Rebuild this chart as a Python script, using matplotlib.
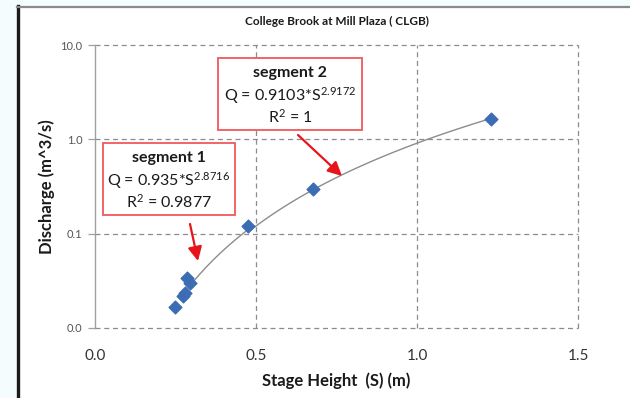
import numpy as np
import matplotlib
matplotlib.use("Agg")
import matplotlib.pyplot as plt
from matplotlib.patches import Rectangle, FancyArrowPatch
from matplotlib.lines import Line2D

plt.rcParams['font.family'] = ['Lato', 'DejaVu Sans']
plt.rcParams['mathtext.default'] = 'regular'

# Measured stage/discharge pairs
stage = [0.248, 0.274, 0.280, 0.285, 0.295, 0.475, 0.677, 1.23]
discharge = [0.0169, 0.0216, 0.0235, 0.0339, 0.0300, 0.122, 0.300, 1.66]

# Power-law fits for the two segments
seg1_coef, seg1_exp = 0.935, 2.8716
seg2_coef, seg2_exp = 0.9103, 2.9172
seg1_range = (0.29, 0.475)
seg2_range = (0.475, 1.23)

x_ticks = [0.0, 0.5, 1.0, 1.5]
x_labels = ["0.0", "0.5", "1.0", "1.5"]
y_ticks = [0.01, 0.1, 1.0, 10.0]
y_labels = ["0.0", "0.1", "1.0", "10.0"]

W, H = 630, 398
fig = plt.figure(figsize=(W / 100, H / 100), dpi=100, facecolor="#f4fcfd")

# White chart panel with its dark left edge and grey top rule
fig.patches.append(Rectangle((19 / W, 0), 1 - 19 / W, 1 - 7 / H,
                             transform=fig.transFigure, facecolor="white",
                             edgecolor="none", zorder=-5))
fig.lines.append(Line2D([18 / W, 18 / W], [0, 1 - 6 / H], transform=fig.transFigure,
                        color="#1a1a1a", lw=2.4, zorder=-4))
fig.lines.append(Line2D([17 / W, 1], [1 - 6.5 / H, 1 - 6.5 / H], transform=fig.transFigure,
                        color="#8a8a8a", lw=1.6, zorder=-4))

ax = fig.add_axes([95 / W, 1 - 328 / H, (578 - 95) / W, (328 - 45) / H])
ax.set_facecolor("none")
ax.set_yscale("log")
ax.set_xlim(0, 1.5)
ax.set_ylim(0.01, 10)

for s in ["top", "right", "bottom"]:
    ax.spines[s].set_visible(False)
ax.spines["left"].set_color("#a0a0a0")
ax.spines["left"].set_linewidth(1.0)

grid_kw = dict(color="#8c8c8c", lw=0.9, ls=(0, (4, 3)), zorder=1, clip_on=False)
for yv in y_ticks:
    ax.axhline(yv, **grid_kw)
for xv in x_ticks[1:]:
    ax.axvline(xv, **grid_kw)

ax.set_xticks(x_ticks)
ax.set_xticklabels(x_labels)
ax.set_yticks(y_ticks)
ax.set_yticklabels(y_labels)
ax.yaxis.set_minor_locator(matplotlib.ticker.NullLocator())
ax.tick_params(axis="x", length=0, pad=15, labelsize=11, colors="#333333")
ax.tick_params(axis="y", length=5, width=0.9, color="#a0a0a0", pad=4,
               labelsize=8, labelcolor="#555555")

# Fitted curves
s1 = np.linspace(*seg1_range, 50)
s2 = np.linspace(*seg2_range, 100)
ax.plot(s1, seg1_coef * s1 ** seg1_exp, color="#8c8c8c", lw=1.0, zorder=2)
ax.plot(s2, seg2_coef * s2 ** seg2_exp, color="#8c8c8c", lw=1.0, zorder=2)

# Observations
ax.scatter(stage, discharge, marker="D", s=42, color="#3c6db4",
           edgecolors="#3c6db4", zorder=3)

fig.text(337 / W, 1 - 21 / H, "College Brook at Mill Plaza ( CLGB)",
         ha="center", va="center", fontsize=8.5, fontweight="bold", color="#1a1a1a")
ax.set_xlabel("Stage Height  (S) (m)", fontsize=12, fontweight="bold",
              color="#1a1a1a", labelpad=7)
ax.set_ylabel("Discharge (m^3/s)", fontsize=12, fontweight="bold",
              color="#1a1a1a", labelpad=4)


def eq_box(x0, y0, x1, y1, title, coef, expo, r2):
    fig.patches.append(Rectangle((x0 / W, 1 - y1 / H), (x1 - x0) / W, (y1 - y0) / H,
                                 transform=fig.transFigure, facecolor="white",
                                 edgecolor="#f0585c", lw=1.3, zorder=5))
    cx = (x0 + x1) / 2 / W
    hgt = y1 - y0
    kw = dict(ha="center", va="center", fontsize=11.5, color="#1a1a1a", zorder=6)
    fig.text(cx, 1 - (y0 + hgt * 0.21) / H, title, fontweight="bold", **kw)
    fig.text(cx, 1 - (y0 + hgt * 0.52) / H,
             "Q = " + f"{coef}" + "*S$^{" + f"{expo}" + "}$", **kw)
    fig.text(cx, 1 - (y0 + hgt * 0.81) / H, "R$^{2}$ = " + r2, **kw)


eq_box(218, 58, 362, 130, "segment 2", seg2_coef, seg2_exp, "1")
eq_box(103, 143, 235, 215, "segment 1", seg1_coef, seg1_exp, "0.9877")

arrow_kw = dict(arrowstyle="-|>,head_length=0.6,head_width=0.3", color="#e8141c",
                lw=1.6, shrinkA=0, shrinkB=0, mutation_scale=14)
fig.patches.append(FancyArrowPatch(
    (190 / W, 1 - 224 / H), (198 / W, 1 - 261 / H),
    transform=fig.transFigure, zorder=7, **arrow_kw))
fig.patches.append(FancyArrowPatch(
    (298 / W, 1 - 135 / H), (342 / W, 1 - 176 / H),
    transform=fig.transFigure, zorder=7, **arrow_kw))

fig.savefig("out.png", dpi=100, facecolor=fig.get_facecolor())
